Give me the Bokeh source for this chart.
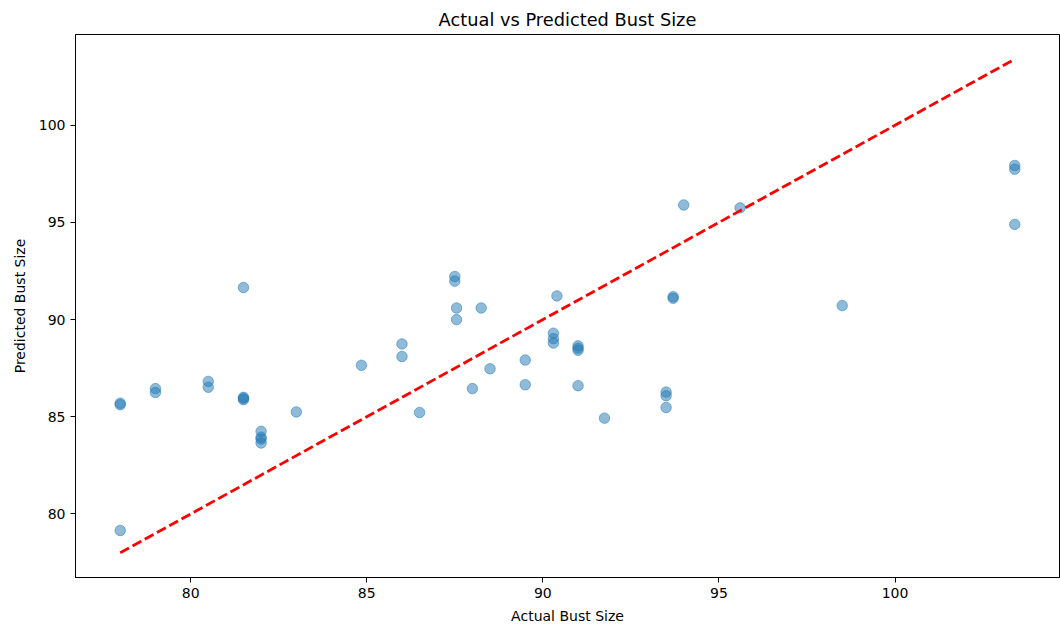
from bokeh.plotting import figure
from bokeh.embed import file_html
from bokeh.resources import INLINE
from bokeh.models import Range1d, FixedTicker

actual = [78, 78, 78,
          79, 79,
          80.5, 80.5,
          81.5, 81.5, 81.5, 81.5,
          82, 82, 82, 82,
          83,
          84.85,
          86, 86,
          86.5,
          87.5, 87.5, 87.55, 87.55,
          88.25, 88, 88.5,
          89.5, 89.5,
          90.3, 90.3, 90.3,
          90.4,
          91, 91, 91, 91,
          91.75,
          93.5, 93.5, 93.5,
          93.7, 93.7,
          94, 95.6, 98.5,
          103.4, 103.4, 103.4]
predicted = [79.15, 85.7, 85.62,
             86.45, 86.25,
             86.82, 86.52,
             91.65, 86.0, 85.95, 85.88,
             84.25, 83.95, 83.85, 83.65,
             85.25,
             87.65,
             88.75, 88.1,
             85.22,
             92.22, 91.98, 90.6, 90.0,
             90.6, 86.45, 87.47,
             87.92, 86.65,
             89.3, 89.02, 88.8,
             91.22,
             88.65, 88.53, 88.42, 86.6,
             84.93,
             86.27, 86.08, 85.48,
             91.18, 91.1,
             95.9, 95.75, 90.72,
             97.93, 97.74, 94.9]

ticks = [80, 85, 90, 95, 100]

lo, hi = min(actual), max(actual)
pad = (hi - lo) * 0.05

p = figure(width=1060, height=626, output_backend="svg", toolbar_location=None,
           x_range=Range1d(lo - pad, hi + pad), y_range=Range1d(lo - pad, hi + pad),
           min_border_left=75, min_border_right=1, min_border_top=34, min_border_bottom=48)

p.title.text = "Actual vs Predicted Bust Size"
p.title.align = "center"
p.title.text_font = "DejaVu Sans"
p.title.text_font_size = "17.8px"
p.title.text_font_style = "normal"
p.title.text_color = "black"

p.grid.visible = False
p.outline_line_color = "black"
p.outline_line_width = 1
p.background_fill_color = "white"
p.border_fill_color = "white"

for ax in (p.xaxis[0], p.yaxis[0]):
    ax.ticker = FixedTicker(ticks=ticks)
    ax.minor_tick_line_color = None
    ax.major_tick_out = 5
    ax.major_tick_in = 0
    ax.major_label_text_font = "DejaVu Sans"
    ax.major_label_text_font_size = "14px"
    ax.major_label_text_color = "black"
    ax.axis_label_text_font = "DejaVu Sans"
    ax.axis_label_text_font_size = "14px"
    ax.axis_label_text_font_style = "normal"
    ax.axis_label_text_color = "black"
    ax.axis_line_color = "black"
    ax.major_tick_line_color = "black"

p.xaxis.axis_label = "Actual Bust Size"
p.yaxis.axis_label = "Predicted Bust Size"
p.xaxis.axis_label_standoff = 7
p.yaxis.axis_label_standoff = 8
p.yaxis.major_label_orientation = "horizontal"

p.scatter(actual, predicted, size=10.5, fill_color="#1f77b4", line_color="#1f77b4",
          fill_alpha=0.5, line_alpha=0.5)

p.line([lo, hi], [lo, hi], line_color="red", line_width=2.8, line_dash="10 4")

open("out.html", "w").write(file_html(p, INLINE))
